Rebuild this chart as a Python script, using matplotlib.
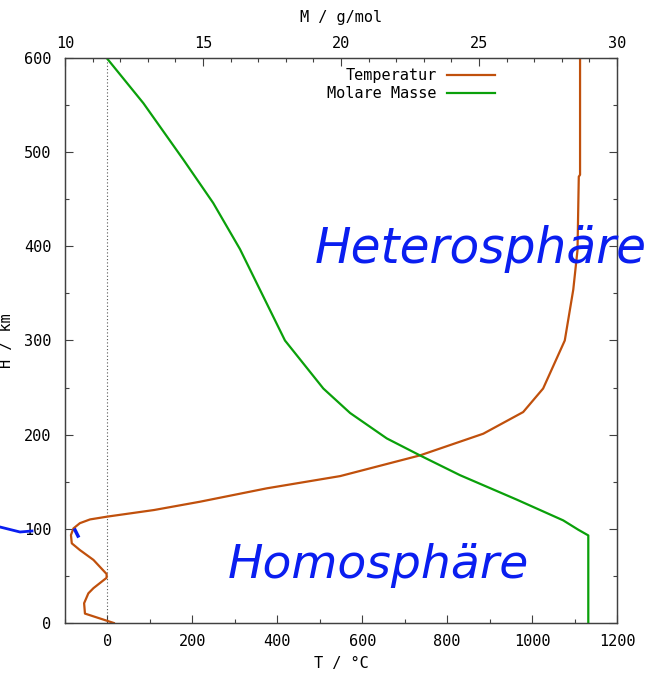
import matplotlib
matplotlib.use("Agg")
import matplotlib.pyplot as plt
from matplotlib.ticker import MultipleLocator

# temperature profile: height (km) vs T (degC)
temp_height = [0, 10, 21, 31.5, 37, 48, 52, 67, 77.5, 84.6, 93.4, 100.5, 106, 110,
               113, 120, 128.8, 143, 156, 178, 201, 224, 249, 300, 354, 396, 474,
               476, 600]
temp_values = [15, -53, -55, -45, -33, -2, -2, -33, -65, -84, -86, -80, -65, -41,
               0, 110, 218, 375, 548, 736, 885, 979, 1026, 1077, 1097, 1107, 1110,
               1113, 1113]

# molar mass profile: height (km) vs M (g/mol)
mass_height = [0, 93, 99, 109, 131, 157, 178, 196, 223, 249, 300, 347, 397, 446,
               492, 552, 600]
mass_values = [28.96, 28.96, 28.6, 28.05, 26.37, 24.31, 22.86, 21.66, 20.33, 19.36,
               17.97, 17.18, 16.34, 15.37, 14.29, 12.84, 11.51]

ORANGE = "#c0500c"
GREEN = "#0aa00a"
BLUE = "#0a1ef0"
FRAME = "#404040"
MONO = "DejaVu Sans Mono"
FS = 11

fig = plt.figure(figsize=(6.48, 6.73), dpi=100)
ax = fig.add_axes([65 / 648, 1 - 623 / 673, 552 / 648, 565 / 673])
ax2 = ax.twiny()

ax.set_xlim(-100, 1200)
ax.set_ylim(0, 600)
ax2.set_xlim(10, 30)

l1, = ax.plot(temp_values, temp_height, color=ORANGE, lw=1.6, label="Temperatur")
l2, = ax2.plot(mass_values, mass_height, color=GREEN, lw=1.6, label="Molare Masse")
ax.axvline(0, color="#555555", lw=0.8, ls=(0, (1, 2)), zorder=0)

ax.xaxis.set_major_locator(MultipleLocator(200))
ax.xaxis.set_minor_locator(MultipleLocator(100))
ax.yaxis.set_major_locator(MultipleLocator(100))
ax.yaxis.set_minor_locator(MultipleLocator(50))
ax2.xaxis.set_major_locator(MultipleLocator(5))
ax2.xaxis.set_minor_locator(MultipleLocator(1))

ax.tick_params(which="both", direction="in", right=True, top=False,
               color=FRAME, width=0.8)
ax.tick_params(which="major", length=6)
ax.tick_params(axis="x", which="major", pad=8)
ax.tick_params(axis="y", which="major", pad=10)
ax.tick_params(which="minor", length=3)
ax2.tick_params(which="both", direction="in", color=FRAME, width=0.8)
ax2.tick_params(which="major", length=6, pad=5)
ax2.tick_params(which="minor", length=3)

for a in (ax, ax2):
    for s in a.spines.values():
        s.set_color(FRAME)
        s.set_linewidth(0.9)
    for lab in a.get_xticklabels() + a.get_yticklabels():
        lab.set_fontfamily(MONO)
        lab.set_fontsize(FS)

ax.set_xlabel("T / °C", fontfamily=MONO, fontsize=FS, labelpad=5)
ax2.set_xlabel("M / g/mol", fontfamily=MONO, fontsize=FS, labelpad=10)
fig.text(7 / 648, 0.494, "H / km", rotation=90, ha="center", va="center",
         fontfamily=MONO, fontsize=FS)

leg = ax.legend(handles=[l1, l2], loc="upper right", bbox_to_anchor=(0.803, 1.006),
                frameon=False, markerfirst=False, handlelength=3.1,
                handletextpad=0.7, labelspacing=0.2,
                prop={"family": MONO, "size": FS})

# handwritten notes
fig.text(315 / 648, 1 - 263 / 673, "Heterosphäre", color=BLUE, fontsize=35,
         fontstyle="italic", ha="left", va="baseline")
fig.text(228 / 648, 1 - 578 / 673, "Homosphäre", color=BLUE, fontsize=34,
         fontstyle="italic", ha="left", va="baseline")
fig.lines.append(plt.Line2D([0, 8 / 648, 20 / 648, 32 / 648],
                            [1 - 527 / 673, 1 - 529 / 673, 1 - 532 / 673, 1 - 531 / 673],
                            transform=fig.transFigure, color=BLUE, lw=2))
fig.lines.append(plt.Line2D([75 / 648, 78 / 648], [1 - 530 / 673, 1 - 536 / 673],
                            transform=fig.transFigure, color=BLUE, lw=2.5))

fig.savefig("out.png", dpi=100)
